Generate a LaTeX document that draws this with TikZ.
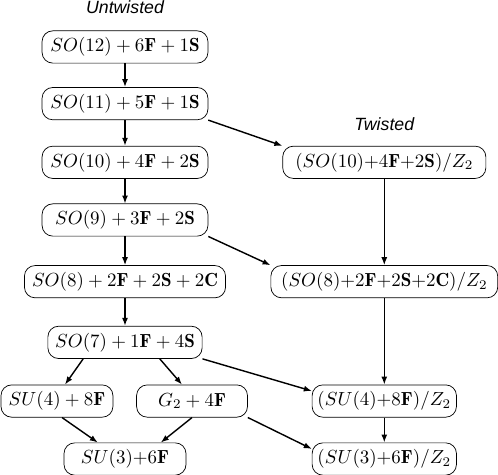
\documentclass[tikz,border=0pt]{standalone}
\usepackage{fix-cm}
\usepackage{amsmath,amssymb}
\usepackage{fontspec}
\newfontfamily\labelfont{Liberation Sans}
\usepackage{tikz}
\usetikzlibrary{arrows.meta,positioning}

\begin{document}
\begin{tikzpicture}[
  box/.style={draw,rounded corners=6pt,minimum height=0.64cm,inner sep=3pt,font=\fontsize{10.7}{13}\selectfont},
  arr/.style={-{Latex[length=4.5pt]},thick},
  head/.style={font=\labelfont\itshape}
]
  \useasboundingbox (-2.48,-8.49) rectangle (7.40,0.932);
  % untwisted chain
  \node[box,minimum width=3.29cm] (u12) at (0,0) {$SO(12)+6\mathbf{F}+1\mathbf{S}$};
  \node[box,minimum width=3.29cm,below=0.47cm of u12] (u11) {$SO(11)+5\mathbf{F}+1\mathbf{S}$};
  \node[box,minimum width=3.29cm,below=0.51cm of u11] (u10) {$SO(10)+4\mathbf{F}+2\mathbf{S}$};
  \node[box,minimum width=3.29cm,below=0.49cm of u10] (u9) {$SO(9)+3\mathbf{F}+2\mathbf{S}$};
  \node[box,minimum width=3.99cm,below=0.57cm of u9] (u8) {$SO(8)+2\mathbf{F}+2\mathbf{S}+2\mathbf{C}$};
  \node[box,minimum width=3.06cm,below=0.55cm of u8] (u7) {$SO(7)+1\mathbf{F}+4\mathbf{S}$};
  \node[box,minimum width=2.22cm,below=0.51cm of u7,xshift=-1.35cm] (su4) {$SU(4)+8\mathbf{F}$};
  \node[box,minimum width=2.2cm,below=0.51cm of u7,xshift=1.33cm] (g2) {$G_2+4\mathbf{F}$};
  \node[box,minimum width=2.42cm,below=1.66cm of u7] (su3) {$SU(3){+}6\mathbf{F}$};
  % twisted chain
  \node[box,minimum width=4.03cm,right=1.47cm of u10] (t10) {$(SO(10){+}4\mathbf{F}{+}2\mathbf{S})/Z_2$};
  \node[box,minimum width=4.5cm] (t8) at (t10 |- u8) {$(SO(8){+}2\mathbf{F}{+}2\mathbf{S}{+}2\mathbf{C})/Z_2$};
  \node[box,minimum width=2.78cm] (ts4) at (t10 |- su4) {$(SU(4){+}8\mathbf{F})/Z_2$};
  \node[box,minimum width=2.78cm] (ts3) at (t10 |- su3) {$(SU(3){+}6\mathbf{F})/Z_2$};
  \node[head,above=0.2cm of u12] (lu) {Untwisted};
  \node[head,above=0.18cm of t10] (lt) {Twisted};
  % arrows
  \draw[arr] (u12)--(u11);
  \draw[arr] (u11)--(u10);
  \draw[arr] (u10)--(u9);
  \draw[arr] (u9)--(u8);
  \draw[arr] (u8)--(u7);
  \draw[arr] ([xshift=-0.83cm]u7.south)--([xshift=0.16cm]su4.north);
  \draw[arr] ([xshift=0.69cm]u7.south)--([xshift=-0.2cm]g2.north);
  \draw[arr] ([xshift=0.1cm]su4.south)--([xshift=-0.54cm]su3.north);
  \draw[arr] (g2.south)--([xshift=0.71cm]su3.north);
  \draw[arr] (t10)--(t8);
  \draw[arr] (t8)--(ts4);
  \draw[arr] (ts4)--(ts3);
  \draw[arr] (u11.south east)--(t10.north west);
  \draw[arr] (u9.south east)--(t8.north west);
  \draw[arr] (u7.south east)--([yshift=0.2cm]ts4.west);
  \draw[arr] (g2.south east)--([yshift=0.2cm]ts3.west);
\end{tikzpicture}
\end{document}
